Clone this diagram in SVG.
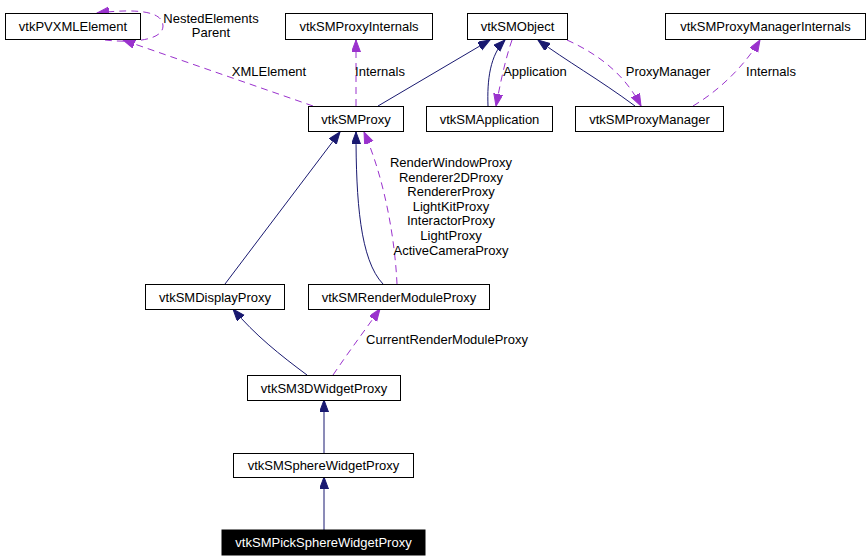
<svg xmlns="http://www.w3.org/2000/svg" width="868" height="560" viewBox="0 0 868 560">
<style>
.box{fill:#fff;stroke:#000;stroke-width:1}
.t{font-family:"Liberation Sans",Arial,sans-serif;font-size:13px;fill:#000;text-anchor:middle}
.inh{fill:none;stroke:#191970;stroke-width:1;marker-end:url(#an)}
.use{fill:none;stroke:#9a32cd;stroke-width:1;stroke-dasharray:7,5;marker-end:url(#ap)}
</style>
<defs>
<marker id="an" markerUnits="userSpaceOnUse" markerWidth="14" markerHeight="12" refX="12" refY="4.5" orient="auto"><path d="M0,0 L12,4.5 L0,9 z" fill="#191970" stroke="#191970"/></marker>
<marker id="ap" markerUnits="userSpaceOnUse" markerWidth="14" markerHeight="12" refX="12" refY="4.5" orient="auto"><path d="M0,0 L12,4.5 L0,9 z" fill="#9a32cd" stroke="#9a32cd"/></marker>
</defs>
<rect width="868" height="560" fill="#fff"/>
<g id="connectors">
<path class="use" d="M313,106 L123,40"/>
<path class="use" d="M105,40 C130,43 163,41 163,26 C163,12 140,8 97,13"/>
<path class="use" d="M356,106 L356,40"/>
<path class="inh" d="M378,106 L490,40"/>
<path class="inh" d="M488,106 C487,80 490,55 505,40"/>
<path class="use" d="M512,40 C505,60 500,85 496,106"/>
<path class="inh" d="M635,106 C600,80 565,60 538,40"/>
<path class="use" d="M567,40 C600,55 625,75 641,106"/>
<path class="use" d="M693,106 C720,90 745,65 760,40"/>
<path class="inh" d="M225,284 L340,132"/>
<path class="inh" d="M383,284 C360,260 356,200 356,132"/>
<path class="use" d="M397,284 C395,240 385,180 364,132"/>
<path class="inh" d="M307,375 C280,355 255,335 233,309"/>
<path class="use" d="M333,375 C350,350 365,330 380,309"/>
<path class="inh" d="M324,453 L324,400"/>
<path class="inh" d="M324,530 L324,477"/>
<text class="t" x="269" y="76">XMLElement</text>
<text class="t" x="211" y="22.5">NestedElements</text>
<text class="t" x="211" y="37">Parent</text>
<text class="t" x="380" y="76">Internals</text>
<text class="t" x="535" y="76">Application</text>
<text class="t" x="668" y="76">ProxyManager</text>
<text class="t" x="771" y="76">Internals</text>
<text class="t" x="451" y="167">RenderWindowProxy</text>
<text class="t" x="451" y="181.5">Renderer2DProxy</text>
<text class="t" x="451" y="196">RendererProxy</text>
<text class="t" x="451" y="210.5">LightKitProxy</text>
<text class="t" x="451" y="225">InteractorProxy</text>
<text class="t" x="451" y="240">LightProxy</text>
<text class="t" x="451" y="254.5">ActiveCameraProxy</text>
<text class="t" x="447" y="344">CurrentRenderModuleProxy</text>
</g>
<g id="vtkPVXMLElement"><rect class="box" x="5.5" y="13.5" width="135" height="26"/><text class="t" x="73" y="31">vtkPVXMLElement</text></g>
<g id="vtkSMProxyInternals"><rect class="box" x="285.5" y="13.5" width="147" height="26"/><text class="t" x="359" y="31">vtkSMProxyInternals</text></g>
<g id="vtkSMObject"><rect class="box" x="467.5" y="13.5" width="100" height="26"/><text class="t" x="517.5" y="31">vtkSMObject</text></g>
<g id="vtkSMProxyManagerInternals"><rect class="box" x="665.5" y="13.5" width="200" height="26"/><text class="t" x="765.5" y="31">vtkSMProxyManagerInternals</text></g>
<g id="vtkSMProxy"><rect class="box" x="308.5" y="106.5" width="95" height="25"/><text class="t" x="356" y="123.5">vtkSMProxy</text></g>
<g id="vtkSMApplication"><rect class="box" x="426.5" y="106.5" width="126" height="25"/><text class="t" x="489.5" y="123.5">vtkSMApplication</text></g>
<g id="vtkSMProxyManager"><rect class="box" x="575.5" y="106.5" width="148" height="25"/><text class="t" x="649.5" y="123.5">vtkSMProxyManager</text></g>
<g id="vtkSMDisplayProxy"><rect class="box" x="145.5" y="284.5" width="139" height="25"/><text class="t" x="215" y="301.5">vtkSMDisplayProxy</text></g>
<g id="vtkSMRenderModuleProxy"><rect class="box" x="308.5" y="284.5" width="181" height="25"/><text class="t" x="399" y="301.5">vtkSMRenderModuleProxy</text></g>
<g id="vtkSM3DWidgetProxy"><rect class="box" x="247.5" y="375.5" width="153" height="25"/><text class="t" x="324" y="392.5">vtkSM3DWidgetProxy</text></g>
<g id="vtkSMSphereWidgetProxy"><rect class="box" x="233.5" y="453.5" width="180" height="24"/><text class="t" x="323.5" y="470">vtkSMSphereWidgetProxy</text></g>
<g id="vtkSMPickSphereWidgetProxy"><rect x="222" y="530" width="203" height="25" fill="#000" stroke="#000"/><text class="t" x="323.5" y="547" style="fill:#fff">vtkSMPickSphereWidgetProxy</text></g>
</svg>
